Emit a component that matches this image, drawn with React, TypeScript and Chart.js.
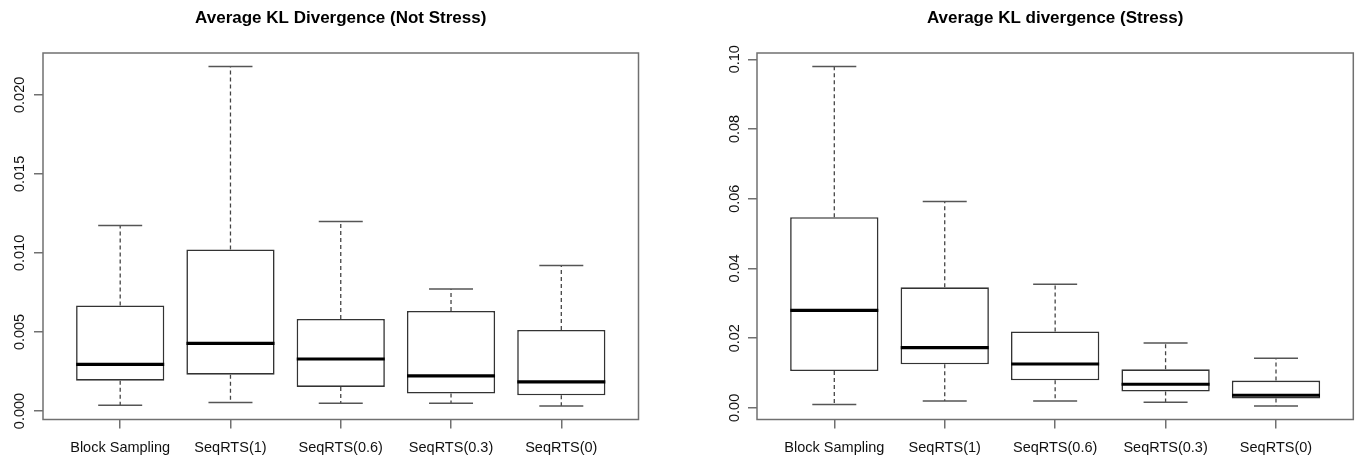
import React, { useEffect, useRef } from "react";
import { Chart, registerables } from "chart.js";

Chart.register(...registerables);

const CATEGORIES = ["Block Sampling", "SeqRTS(1)", "SeqRTS(0.6)", "SeqRTS(0.3)", "SeqRTS(0)"];

// Average KL Divergence (Not Stress)
const NS_MIN = [0.00036, 0.00053, 0.00049, 0.00049, 0.00032];
const NS_Q1 = [0.00192, 0.0023, 0.00152, 0.0011, 0.00099];
const NS_MED = [0.00295, 0.00428, 0.00329, 0.00222, 0.00184];
const NS_Q3 = [0.00668, 0.01022, 0.00582, 0.00633, 0.00513];
const NS_MAX = [0.01174, 0.02179, 0.01199, 0.00772, 0.00921];
const NS_Y_TICKS = [0, 0.005, 0.01, 0.015, 0.02];
const NS_Y_LABELS = ["0.000", "0.005", "0.010", "0.015", "0.020"];

// Average KL divergence (Stress)
const S_MIN = [0.00097, 0.002, 0.002, 0.00163, 0.00057];
const S_Q1 = [0.01059, 0.0125, 0.00793, 0.00469, 0.0027];
const S_MED = [0.02796, 0.01728, 0.01259, 0.00678, 0.00363];
const S_Q3 = [0.0547, 0.0346, 0.02195, 0.01107, 0.00784];
const S_MAX = [0.0979, 0.0592, 0.0355, 0.0186, 0.01422];
const S_Y_TICKS = [0, 0.02, 0.04, 0.06, 0.08, 0.1];
const S_Y_LABELS = ["0.00", "0.02", "0.04", "0.06", "0.08", "0.10"];

const FONT = '"Liberation Sans", Arial, Helvetica, sans-serif';
const FRAME = "#707070";

const framePlugin = {
  id: "frame",
  afterDatasetsDraw(chart: any) {
    const { ctx, chartArea: a } = chart;
    ctx.save();
    ctx.strokeStyle = FRAME;
    ctx.lineWidth = 1.5;
    ctx.strokeRect(a.left, a.top, a.right - a.left, a.bottom - a.top);
    ctx.restore();
  },
};

type Props = {
  title: string;
  mins: number[];
  q1s: number[];
  meds: number[];
  q3s: number[];
  maxs: number[];
  yTicks: number[];
  yLabels: string[];
  left: number;
  yAxisWidth: number;
  padRight: number;
  yLabelPad: number;
};

function BoxChart(p: Props) {
  const ref = useRef<HTMLCanvasElement | null>(null);
  useEffect(() => {
    const pos = (i: number) => i + 1;
    const n = CATEGORIES.length;
    const lo = Math.min(...p.mins);
    const hi = Math.max(...p.maxs);
    const ext = (hi - lo) * 0.04;
    const chart = new Chart(ref.current as HTMLCanvasElement, {
      type: "bar",
      data: {
        datasets: [
          {
            type: "line",
            label: "median",
            data: p.meds.map((v, i) => ({ x: pos(i), y: v })),
            showLine: false,
            pointStyle: "line",
            pointRadius: 44,
            pointHoverRadius: 44,
            pointBorderWidth: 3.2,
            pointBorderColor: "#000",
            borderColor: "#000",
          },
          {
            type: "line",
            label: "caps",
            data: CATEGORIES.flatMap((_, i) => [
              { x: pos(i), y: p.mins[i] },
              { x: pos(i), y: p.maxs[i] },
            ]),
            showLine: false,
            pointStyle: "line",
            pointRadius: 22,
            pointHoverRadius: 22,
            pointBorderWidth: 1.5,
            pointBorderColor: "#555",
            borderColor: "#555",
          },
          {
            type: "line",
            label: "whiskers",
            data: CATEGORIES.flatMap((_, i) => [
              { x: pos(i), y: p.q3s[i] },
              { x: pos(i), y: p.maxs[i] },
              { x: pos(i), y: null },
              { x: pos(i), y: p.q1s[i] },
              { x: pos(i), y: p.mins[i] },
              { x: pos(i), y: null },
            ]),
            borderDash: [4, 3],
            borderWidth: 1.3,
            borderColor: "#444",
            pointRadius: 0,
            pointHoverRadius: 0,
            spanGaps: false,
          },
          {
            type: "bar",
            label: "box",
            data: p.q1s.map((v, i) => ({ x: pos(i), y: [v, p.q3s[i]] })),
            backgroundColor: "#ffffff",
            borderColor: "#333",
            borderWidth: 1.6,
            borderSkipped: false,
            barPercentage: 0.8,
            categoryPercentage: 1,
          },
        ] as any,
      },
      options: {
        responsive: false,
        animation: false,
        devicePixelRatio: 1,
        layout: { autoPadding: false, padding: { left: 0, right: p.padRight, top: 0, bottom: 0 } },
        plugins: {
          legend: { display: false },
          tooltip: { enabled: false },
          title: {
            display: true,
            text: p.title,
            fullSize: false,
            color: "#000",
            font: { family: FONT, size: 17, weight: "bold" },
            padding: { top: 8.3, bottom: 24.3 },
          },
        },
        scales: {
          x: {
            type: "linear",
            min: 0.5 - 0.04 * n,
            max: n + 0.5 + 0.04 * n,
            offset: false,
            bounds: "data",
            afterBuildTicks: (s: any) => {
              s.ticks = CATEGORIES.map((_, i) => ({ value: pos(i) }));
            },
            afterFit: (s: any) => {
              s.height = 42.5;
              s.paddingLeft = 0;
              s.paddingRight = 0;
            },
            ticks: {
              autoSkip: false,
              maxRotation: 0,
              minRotation: 0,
              padding: 10.5,
              color: "#111",
              font: { family: FONT, size: 14.5 },
              callback: (_v: any, i: number) => CATEGORIES[i],
            },
            grid: {
              display: true,
              drawOnChartArea: false,
              drawTicks: true,
              tickLength: 9,
              color: FRAME,
              lineWidth: 1.5,
              offset: false,
            },
            border: { display: false },
          },
          y: {
            type: "linear",
            min: lo - ext,
            max: hi + ext,
            bounds: "data",
            afterBuildTicks: (s: any) => {
              s.ticks = p.yTicks.map((v) => ({ value: v }));
            },
            afterFit: (s: any) => {
              s.width = p.yAxisWidth;
              s.paddingTop = 0;
              s.paddingBottom = 0;
            },
            ticks: {
              minRotation: 90,
              maxRotation: 90,
              crossAlign: "center",
              padding: p.yLabelPad,
              color: "#111",
              font: { family: FONT, size: 14.5 },
              callback: (_v: any, i: number) => p.yLabels[i],
            },
            grid: {
              display: true,
              drawOnChartArea: false,
              drawTicks: true,
              tickLength: 9,
              color: FRAME,
              lineWidth: 1.5,
            },
            border: { display: false },
          },
        },
      } as any,
      plugins: [framePlugin],
    });
    return () => chart.destroy();
  }, []);
  return (
    <canvas
      ref={ref}
      width={680}
      height={462}
      style={{ position: "absolute", left: p.left, top: 0, width: 680, height: 462 }}
    />
  );
}

export default function App() {
  return (
    <div style={{ position: "absolute", left: 0, top: 0, width: 1360, height: 462, background: "#fff" }}>
      <BoxChart
        title="Average KL Divergence (Not Stress)"
        mins={NS_MIN}
        q1s={NS_Q1}
        meds={NS_MED}
        q3s={NS_Q3}
        maxs={NS_MAX}
        yTicks={NS_Y_TICKS}
        yLabels={NS_Y_LABELS}
        left={0}
        yAxisWidth={43}
        padRight={41.5}
        yLabelPad={-4}
      />
      <BoxChart
        title="Average KL divergence (Stress)"
        mins={S_MIN}
        q1s={S_Q1}
        meds={S_MED}
        q3s={S_Q3}
        maxs={S_MAX}
        yTicks={S_Y_TICKS}
        yLabels={S_Y_LABELS}
        left={680}
        yAxisWidth={77}
        padRight={6.7}
        yLabelPad={-1.2}
      />
    </div>
  );
}
